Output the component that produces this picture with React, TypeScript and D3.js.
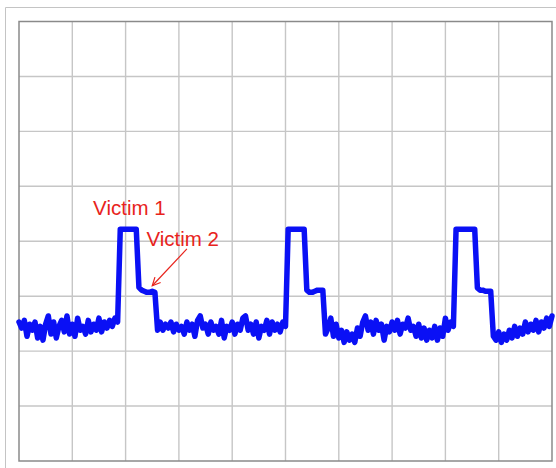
import * as d3 from "d3";

// trace samples in screen divisions (0 = bottom line), one every 0.05 div
const baseline1 = [2.53, 2.42, 2.56, 2.27, 2.49, 2.38, 2.53, 2.24, 2.45, 2.2, 2.49, 2.64, 2.31, 2.53, 2.24, 2.45, 2.56, 2.35, 2.64, 2.31, 2.49, 2.27, 2.6, 2.38, 2.45, 2.31, 2.56, 2.35, 2.49, 2.38, 2.6, 2.35, 2.53, 2.42, 2.56, 2.45, 2.6, 2.53];
const pulse1 = [4.22, 4.22, 4.22, 4.22, 4.22, 4.22, 4.22, 3.16, 3.11, 3.09, 3.07, 3.07, 3.09, 3.07, 2.38];
const baseline2 = [2.53, 2.38, 2.49, 2.42, 2.53, 2.35, 2.49, 2.38, 2.45, 2.31, 2.53, 2.38, 2.49, 2.27, 2.56, 2.64, 2.42, 2.49, 2.31, 2.53, 2.38, 2.45, 2.31, 2.56, 2.24, 2.45, 2.38, 2.53, 2.31, 2.49, 2.38, 2.6, 2.64, 2.38, 2.49, 2.31, 2.53, 2.24, 2.45, 2.38, 2.56, 2.31, 2.53, 2.38, 2.49, 2.35, 2.53, 2.45];
const pulse2 = [4.22, 4.22, 4.22, 4.22, 4.22, 4.22, 4.22, 3.11, 3.07, 3.07, 3.09, 3.11, 3.11, 3.11, 2.31];
const baseline3 = [2.42, 2.6, 2.27, 2.49, 2.24, 2.38, 2.16, 2.35, 2.2, 2.31, 2.16, 2.42, 2.27, 2.53, 2.64, 2.38, 2.53, 2.31, 2.56, 2.38, 2.49, 2.2, 2.45, 2.35, 2.53, 2.38, 2.56, 2.31, 2.49, 2.42, 2.6, 2.38, 2.45, 2.27, 2.49, 2.24, 2.42, 2.2, 2.38, 2.24, 2.45, 2.2, 2.42, 2.27, 2.6, 2.38, 2.53, 2.45];
const pulse3 = [4.22, 4.22, 4.22, 4.22, 4.22, 4.22, 4.22, 4.22, 3.15, 3.11, 3.11, 3.09, 3.09, 3.09, 2.27];
const baseline4 = [2.2, 2.35, 2.16, 2.31, 2.2, 2.38, 2.24, 2.45, 2.27, 2.42, 2.31, 2.53, 2.35, 2.49, 2.38, 2.56, 2.35, 2.53, 2.42, 2.6, 2.45, 2.64];

const trace = [...baseline1, ...pulse1, ...baseline2, ...pulse2, ...baseline3, ...pulse3, ...baseline4];
const sampleStep = 0.05;

const xDivs = d3.range(0, 11);
const yDivs = d3.range(0, 9);

const labels = [
  { text: "Victim 1", t: 1.39, v: 4.47 },
  { text: "Victim 2", t: 2.39, v: 3.92 },
];
// arrow from label 2 toward the step of pulse 1 (divisions)
const arrowFrom = { t: 3.15, v: 3.86 };
const arrowTo = { t: 2.5, v: 3.19 };

const width = 556;
const height = 468;
const red = "#e8231c";

export default function App() {
  const x = d3.scaleLinear().domain([0, 10]).range([19, 552]);
  const y = d3.scaleLinear().domain([0, 8]).range([461, 21.5]);

  const line = d3
    .line<number>()
    .x((_, i) => x(i * sampleStep))
    .y((d) => y(d));

  const ax = x(arrowTo.t);
  const ay = y(arrowTo.v);
  const ang = Math.atan2(y(arrowFrom.v) - ay, x(arrowFrom.t) - ax);
  const head = 9;
  const h1 = [ax + head * Math.cos(ang + 0.45), ay + head * Math.sin(ang + 0.45)];
  const h2 = [ax + head * Math.cos(ang - 0.45), ay + head * Math.sin(ang - 0.45)];

  return (
    <svg
      width={width}
      height={height}
      style={{ position: "absolute", left: 0, top: 0, background: "#fff" }}
    >
      {/* outer frame */}
      <path d={`M5.5,${height} V7.5 H${width}`} fill="none" stroke="#c4c4c4" strokeWidth={1} />
      {/* grid */}
      {xDivs.slice(1, -1).map((d) => (
        <line key={"x" + d} x1={x(d)} x2={x(d)} y1={y(0)} y2={y(8)} stroke="#c6c6c6" strokeWidth={1.4} />
      ))}
      {yDivs.slice(1, -1).map((d) => (
        <line key={"y" + d} x1={x(0)} x2={x(10)} y1={y(d)} y2={y(d)} stroke="#c6c6c6" strokeWidth={1.4} />
      ))}
      <rect
        x={x(0)}
        y={y(8)}
        width={x(10) - x(0)}
        height={y(0) - y(8)}
        fill="none"
        stroke="#8a8a8a"
        strokeWidth={1.5}
      />
      {/* trace */}
      <path
        d={line(trace) ?? ""}
        fill="none"
        stroke="#0a10f5"
        strokeWidth={5.5}
        strokeLinejoin="round"
        strokeLinecap="round"
      />
      {/* annotations */}
      {labels.map((l) => (
        <text
          key={l.text}
          x={x(l.t)}
          y={y(l.v)}
          fill={red}
          fontFamily="Liberation Sans, Arial, sans-serif"
          fontSize={20.5}
        >
          {l.text}
        </text>
      ))}
      <line x1={x(arrowFrom.t)} y1={y(arrowFrom.v)} x2={ax} y2={ay} stroke={red} strokeWidth={1.2} />
      <polyline
        points={`${h1[0]},${h1[1]} ${ax},${ay} ${h2[0]},${h2[1]}`}
        fill="none"
        stroke={red}
        strokeWidth={1.2}
      />
    </svg>
  );
}
